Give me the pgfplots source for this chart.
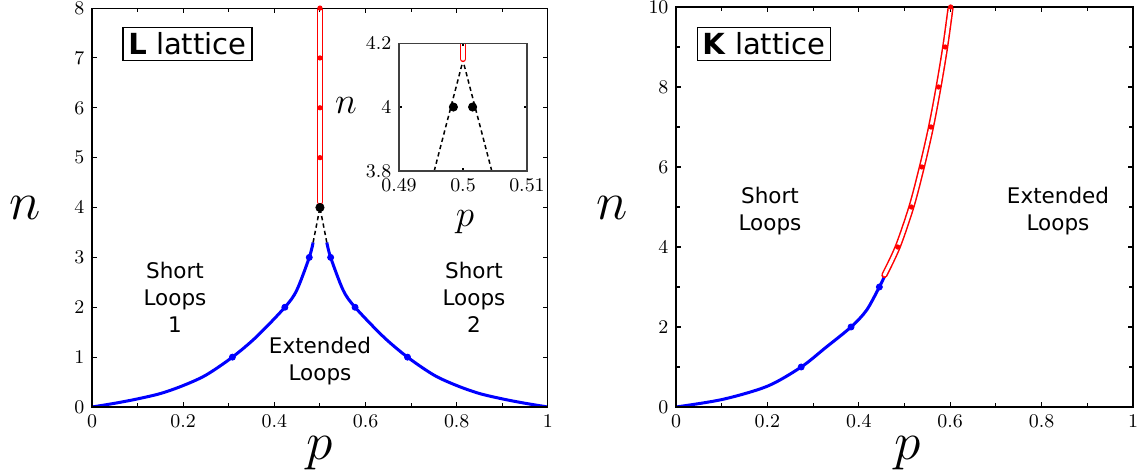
\documentclass[border=0pt]{standalone}
\usepackage[no-math]{fontspec}
\setmainfont{DejaVu Sans}
\usepackage{pgfplots}
\pgfplotsset{compat=1.18}

\pgfplotsset{
  panel/.style={
    scale only axis, anchor=south west, axis on top,
    axis line style={black, line width=0.5pt},
    tick style={black, line width=0.5pt},
    major tick length=2.5pt, minor tick length=2pt,
    tick align=inside,
    ticklabel style={font=\fontsize{9.5}{11}\selectfont},
    scaled ticks=false,
  },
  blueline/.style={blue, line width=1.4pt, smooth, no marks},
  bluedots/.style={blue, only marks, mark=*, mark size=1.4pt},
  redline/.style={red, line width=0.7pt, double=white, double distance=1.5pt, line cap=round, no marks},
  reddots/.style={red, only marks, mark=*, mark size=1pt},
}

\begin{document}
\begin{tikzpicture}[x=0.465pt, y=0.465pt]
\useasboundingbox (0,0) rectangle (1140,475);

% ---------- L lattice ----------
\begin{axis}[panel, at={(42.78pt,31.62pt)}, width=212pt, height=185.5pt,
  xmin=0, xmax=1, ymin=0, ymax=8,
  xtick={0,0.2,0.4,0.6,0.8,1}, minor xtick={0.1,0.3,0.5,0.7,0.9},
  ytick={0,1,2,3,4,5,6,7,8}]
  \addplot[blueline] coordinates {
    (0,0) (0.047,0.07) (0.096,0.155) (0.15,0.27) (0.2,0.43) (0.25,0.64)
    (0.308,1.0) (0.361,1.41) (0.423,2.0) (0.449,2.34) (0.4766,3.0) (0.485,3.3)};
  \addplot[blueline] coordinates {
    (1,0) (0.953,0.07) (0.904,0.155) (0.85,0.27) (0.8,0.43) (0.75,0.64)
    (0.692,1.0) (0.639,1.41) (0.577,2.0) (0.551,2.34) (0.5234,3.0) (0.515,3.3)};
  \addplot[bluedots] coordinates {
    (0.308,1) (0.423,2) (0.4766,3) (0.692,1) (0.577,2) (0.5234,3)};
  \addplot[black, line width=0.7pt, dash pattern=on 2pt off 1.5pt] coordinates {(0.485,3.3) (0.5,4)};
  \addplot[black, line width=0.7pt, dash pattern=on 2pt off 1.5pt] coordinates {(0.515,3.3) (0.5,4)};
  \addplot[black, only marks, mark=*, mark size=1.9pt] coordinates {(0.5,4)};
  \addplot[redline] coordinates {(0.5,4.11) (0.5,8.2)};
  \addplot[reddots] coordinates {(0.5,5) (0.5,6) (0.5,7) (0.5,8)};
\end{axis}

% inset
\begin{axis}[panel, at={(185.54pt,141.36pt)}, width=59.5pt, height=59.5pt,
  xmin=0.49, xmax=0.51, ymin=3.8, ymax=4.2,
  xtick={0.49,0.5,0.51}, ytick={3.8,4,4.2},
  major tick length=1.5pt,
  axis line style={black!75, line width=0.5pt}]
  \addplot[black, line width=0.7pt, dash pattern=on 2pt off 1.5pt] coordinates {(0.4955,3.8) (0.5,4.145)};
  \addplot[black, line width=0.7pt, dash pattern=on 2pt off 1.5pt] coordinates {(0.5045,3.8) (0.5,4.145)};
  \addplot[black, only marks, mark=*, mark size=1.9pt] coordinates {(0.4985,4) (0.5015,4)};
  \addplot[redline] coordinates {(0.5,4.15) (0.5,4.3)};
\end{axis}

% ---------- K lattice ----------
\begin{axis}[panel, at={(314.34pt,31.62pt)}, width=212.5pt, height=186pt,
  xmin=0, xmax=1, ymin=0, ymax=10,
  xtick={0,0.2,0.4,0.6,0.8,1}, minor xtick={0.1,0.3,0.5,0.7,0.9},
  ytick={0,2,4,6,8,10}, minor ytick={1,3,5,7,9}]
  \addplot[blueline] coordinates {
    (0,0) (0.102,0.19) (0.2,0.52) (0.274,1.0) (0.328,1.49) (0.383,2.0)
    (0.417,2.42) (0.445,3.0) (0.456,3.26)};
  \addplot[bluedots] coordinates {(0.274,1) (0.383,2) (0.445,3)};
  \addplot[redline, smooth] coordinates {
    (0.456,3.3) (0.485,4) (0.515,5) (0.538,6) (0.558,7) (0.5745,8) (0.589,9) (0.601,10) (0.604,10.3)};
  \addplot[reddots] coordinates {
    (0.485,4) (0.515,5) (0.538,6) (0.558,7) (0.5745,8) (0.589,9) (0.601,10)};
\end{axis}

% axis labels
\node[font=\fontsize{25}{30}\selectfont] at (25,267) {$n$};
\node[font=\fontsize{25}{30}\selectfont, anchor=base] at (320,15) {$p$};
\node[font=\fontsize{25}{30}\selectfont] at (612,267) {$n$};
\node[font=\fontsize{25}{30}\selectfont, anchor=base] at (908,15) {$p$};
\node[font=\fontsize{18}{22}\selectfont] at (346,369) {$n$};
\node[font=\fontsize{16}{20}\selectfont, anchor=base] at (465,248) {$p$};

% region labels
\node[draw, line width=0.5pt, inner sep=2.5pt, font=\fontsize{13.5}{16}\selectfont] at (187.5,431) {\textbf{L} lattice};
\node[draw, line width=0.5pt, inner sep=2.5pt, font=\fontsize{13.5}{16}\selectfont] at (764,431) {\textbf{K} lattice};
\node[align=center, font=\fontsize{10}{12.6}\selectfont] at (175,177.5) {Short\\Loops\\1};
\node[align=center, font=\fontsize{10}{12.6}\selectfont] at (474,177.5) {Short\\Loops\\2};
\node[align=center, font=\fontsize{10}{12.6}\selectfont] at (320,114) {Extended\\Loops};
\node[align=center, font=\fontsize{10}{12.6}\selectfont] at (770,263.5) {Short\\Loops};
\node[align=center, font=\fontsize{10}{12.6}\selectfont] at (1058,263.5) {Extended\\Loops};
\end{tikzpicture}
\end{document}
